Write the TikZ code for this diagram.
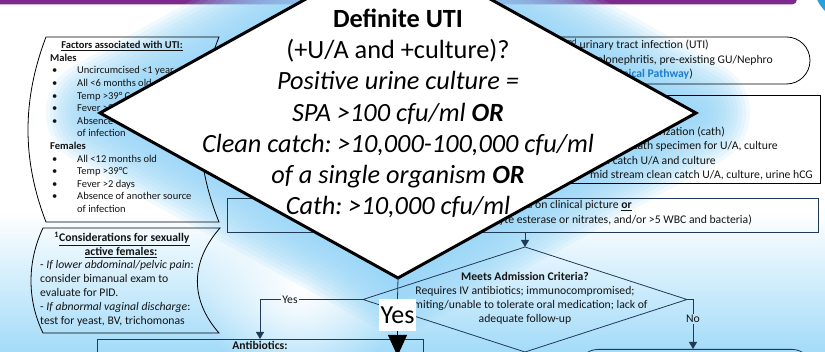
\documentclass[tikz,border=0pt]{standalone}
\usepackage{fontspec}
\setmainfont{Carlito}
\usetikzlibrary{arrows.meta,fadings}

\definecolor{barpurple}{RGB}{124,42,140}
\definecolor{cornerblue}{RGB}{38,160,222}
\definecolor{glowblue}{RGB}{150,214,248}
\definecolor{flownavy}{RGB}{32,58,86}
\definecolor{linkblue}{RGB}{30,125,205}
\definecolor{inkgray}{RGB}{20,20,20}

\tikzfading[name=softspot, inner color=transparent!0, outer color=transparent!100]

\newcommand\bulletgap{\makebox[25pt][l]{\textbullet}}
\frenchspacing

\tikzset{
  txt/.style={inner sep=0pt, text=inkgray, font=\fontsize{11.7}{14}\selectfont},
  txtsm/.style={inner sep=0pt, text=inkgray, font=\fontsize{10.5}{12.6}\selectfont},
  txtbig/.style={inner sep=0pt, text=black, font=\fontsize{26.3}{31}\selectfont},
  sidebox/.style={draw=black, line width=0.8pt},
  flowline/.style={draw=flownavy, line width=0.8pt},
  flowarrow/.style={flowline, -{Triangle[width=8pt,length=7pt]}},
  flowbox/.style={draw=flownavy, line width=0.8pt, inner sep=0pt},
  flowlabel/.style={txt, inner sep=1.5pt},
  glowring/.style={draw=glowblue, opacity=0.14, line join=round},
}

\begin{document}
\begin{tikzpicture}[x=1pt,y=-1pt]
\useasboundingbox (0,0) rectangle (825,352);

% ---- page background
\fill[white] (0,0) rectangle (825,352);
\shade[top color=white, bottom color=glowblue] (0,212) rectangle (825,372);
\fill[white, path fading=softspot] (300,288) circle (100pt);

% ---- header band and corner mark
\fill[barpurple, rounded corners=5pt] (-10,-10) rectangle (797,4.5);
\fill[cornerblue] (850,-15) circle (36pt);

% ---- corner points of the big decision diamond
\coordinate (dN) at (398,-52);
\coordinate (dE) at (696,113);
\coordinate (dS) at (398,278);
\coordinate (dW) at (100,113);

% ---- soft halo round the big decision diamond
\foreach \w in {108,100,...,12}
  \draw[glowring, line width=\w pt] (dN) -- (dE) -- (dS) -- (dW) -- cycle;

% ---- risk factor panel
\draw[sidebox] (46,37) -- (219,37)
  .. controls (194,100) and (194,160) .. (219,222) -- (46,222)
  .. controls (22,160) and (22,100) .. (46,37) -- cycle;
\node[txtsm, anchor=base] (fHead) at (122,49) {\textbf{\underline{Factors associated with UTI:}}};
\node[txtsm, anchor=base west] (fMale) at (50,61.4) {\textbf{Males}};
\node[txtsm, anchor=base west] (fM1) at (52,74) {\bulletgap Uncircumcised <1 year};
\node[txtsm, anchor=base west] (fM2) at (52,86.6) {\bulletgap All <6 months old};
\node[txtsm, anchor=base west] (fM3) at (52,99.2) {\bulletgap Temp >39° C};
\node[txtsm, anchor=base west] (fM4) at (52,111.8) {\bulletgap Fever >2 days};
\node[txtsm, anchor=base west] (fM5) at (52,124.4) {\bulletgap Absence of another source};
\node[txtsm, anchor=base west] (fM6) at (77,137) {of infection};
\node[txtsm, anchor=base west] (fFem) at (50,149.6) {\textbf{Females}};
\node[txtsm, anchor=base west] (fF1) at (52,162.2) {\bulletgap All <12 months old};
\node[txtsm, anchor=base west] (fF2) at (52,174.8) {\bulletgap Temp >39°C};
\node[txtsm, anchor=base west] (fF3) at (52,187.4) {\bulletgap Fever >2 days};
\node[txtsm, anchor=base west] (fF4) at (52,200) {\bulletgap Absence of another source};
\node[txtsm, anchor=base west] (fF5) at (77,212.6) {of infection};

% ---- sexually active females panel
\draw[sidebox] (43,228) -- (220,228)
  .. controls (190,262) and (190,300) .. (219,333) -- (43,333)
  .. controls (27,300) and (27,262) .. (43,228) -- cycle;
\node[txt, anchor=base] (sHead1) at (122,242) {\textsuperscript{\textbf{1}}\textbf{\underline{Considerations for sexually}}};
\node[txt, anchor=base] (sHead2) at (121,255.5) {\textbf{\underline{active females:}}};
\node[txt, anchor=base west] (s1) at (40,269) {- \textit{If lower abdominal/pelvic pain}:};
\node[txt, anchor=base west] (s2) at (40,283) {consider bimanual exam to};
\node[txt, anchor=base west] (s3) at (40,297) {evaluate for PID.};
\node[txt, anchor=base west] (s4) at (40,311) {- \textit{If abnormal vaginal discharge}:};
\node[txt, anchor=base west] (s5) at (40,325) {test for yeast, BV, trichomonas};

% ---- complex UTI exclusion box
\draw[sidebox, rounded corners=23.5pt] (300,37) rectangle (810,84);
\node[txt, anchor=base east] (x1) at (709,49) {2\textsuperscript{nd} urinary tract infection (UTI)};
\node[txt, anchor=base east] (x2) at (773,64) {pyelonephritis, pre-existing GU/Nephro};
\node[txt, anchor=base east] (x3) at (693,78) {(\textcolor{linkblue}{\textbf{Clinical Pathway}})};

% ---- specimen collection box
\draw[sidebox] (300,95) rectangle (820,183);
\node[txt, anchor=base east] (u1) at (725,136) {catheterization (cath)};
\node[txt, anchor=base east] (u2) at (778,150) {cath specimen for U/A, culture};
\node[txt, anchor=base east] (u3) at (716,165) {clean catch U/A and culture};
\node[txt, anchor=base east] (u4) at (813,179) {mid stream clean catch U/A, culture, urine hCG};

% ---- presumed UTI box
\node[flowbox, minimum width=591pt, minimum height=34pt, anchor=north west] (crit) at (227,198) {};
\node[txt, anchor=base east] (c1) at (632,209) {data on clinical picture \textbf{\underline{or}}};
\node[txt, anchor=base east] (c2) at (752,224) {(leukocyte esterase or nitrates, and/or >5 WBC and bacteria)};

% ---- admission decision
\coordinate (aN) at (525,247);
\coordinate (aE) at (687,299.5);
\coordinate (aS) at (525,352);
\coordinate (aW) at (363,299.5);
\draw[flowline] (aN) -- (aE) -- (aS) -- (aW) -- cycle;
\node[txt, anchor=base] (q0) at (525,281) {\textbf{Meets Admission Criteria?}};
\node[txt, anchor=base] (q1) at (525,295) {Requires IV antibiotics; immunocompromised;};
\node[txt, anchor=base] (q2) at (525,309) {vomiting/unable to tolerate oral medication; lack of};
\node[txt, anchor=base] (q3) at (525,323) {adequate follow-up};
\draw[flowarrow] (crit.south -| aN) -- (aN);

% ---- outcome boxes
\node[flowbox, minimum width=326pt, minimum height=60pt, anchor=north] (abx) at (260,339) {};
\node[txt, anchor=base] (abxT) at (260,350) {\textbf{Antibiotics:}};
\node[flowbox, rounded corners=20pt, minimum width=234pt, minimum height=60pt, anchor=north] (home) at (695,349) {};

% ---- admission branches
\node[flowlabel] (yesL) at (290,299.5) {Yes};
\draw[flowline] (aW) -- (yesL.east);
\draw[flowarrow] (yesL.west) -| (abx.north);
\node[flowlabel] (noL) at (693,319) {No};
\draw[flowline] (aE) -| (noL.north);
\draw[flowarrow] (noL.south) -- (noL.south |- home.north);

% ---- big decision diamond
\filldraw[fill=white, draw=black, line width=3pt, line join=miter] (dN) -- (dE) -- (dS) -- (dW) -- cycle;
\node[txtbig, anchor=base] (t1) at (398,27.5) {\textbf{Definite UTI}};
\node[txtbig, anchor=base] (t2) at (398,58.7) {(+U/A and +culture)?};
\node[txtbig, anchor=base] (t3) at (398,89.9) {\textit{Positive urine culture =}};
\node[txtbig, anchor=base] (t4) at (398,121.1) {\textit{SPA >100 cfu/ml \textbf{OR}}};
\node[txtbig, anchor=base] (t5) at (398,152.3) {\textit{Clean catch: >10,000-100,000 cfu/ml}};
\node[txtbig, anchor=base] (t6) at (398,183.5) {\textit{of a single organism \textbf{OR}}};
\node[txtbig, anchor=base] (t7) at (398,214.7) {\textit{Cath: >10,000 cfu/ml}};

% ---- big yes branch
\coordinate (bigTip) at (397.5,356);
\node[fill=white, inner sep=0pt, minimum width=37pt, minimum height=32pt,
      font=\fontsize{26}{31}\selectfont] (bigYes) at (397.5,315) {Yes};
\draw[flowline] (dS) -- (bigYes.north);
\draw[line width=0.8pt, black, -{Triangle[width=19pt,length=21pt]}] (bigYes.south) -- (bigTip);
\end{tikzpicture}
\end{document}
